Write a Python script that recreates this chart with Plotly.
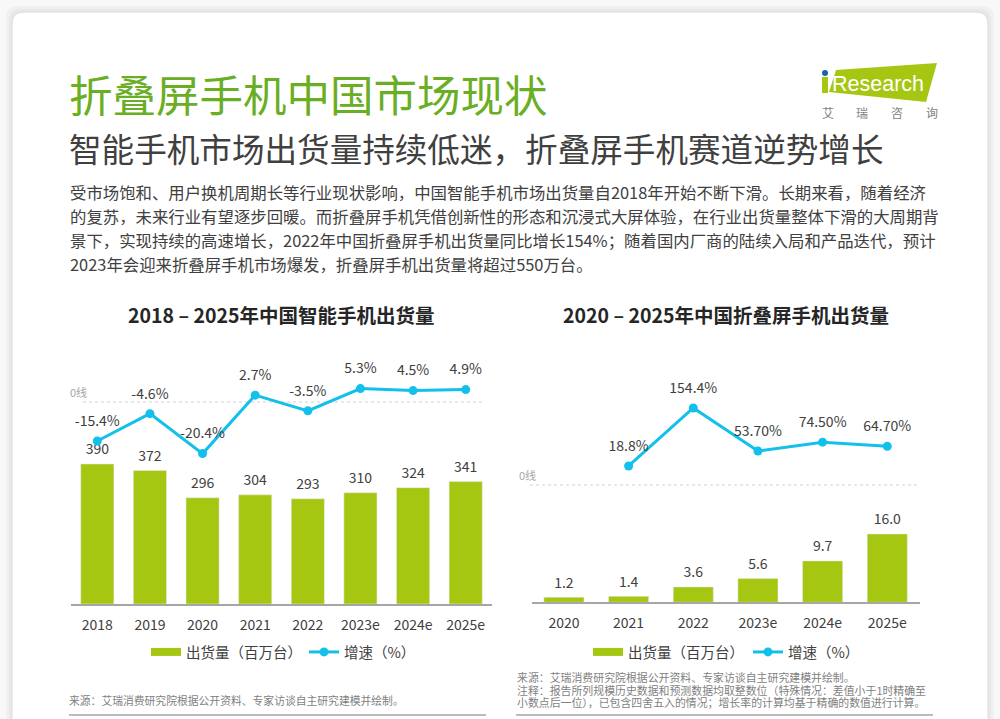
import plotly.graph_objects as go

PAGE_W = 1000
PAGE_H = 719

# left chart
years_a = ['2018', '2019', '2020', '2021', '2022', '2023e', '2024e', '2025e']
shipments_a = [390, 372, 296, 304, 293, 310, 324, 341]
growth_a = [-15.4, -4.6, -20.4, 2.7, -3.5, 5.3, 4.5, 4.9]
growth_labels_a = ['-15.4%', '-4.6%', '-20.4%', '2.7%', '-3.5%', '5.3%', '4.5%', '4.9%']

# right chart
years_b = ['2020', '2021', '2022', '2023e', '2024e', '2025e']
shipments_b = [1.2, 1.4, 3.6, 5.6, 9.7, 16.0]
growth_b = [None, 18.8, 154.4, 53.7, 74.5, 64.7]
growth_labels_b = ['', '18.8%', '154.4%', '53.70%', '74.50%', '64.70%']

title = '折叠屏手机中国市场现状'
subtitle = '智能手机市场出货量持续低迷，折叠屏手机赛道逆势增长'
body_lines = [
    '受市场饱和、用户换机周期长等行业现状影响，中国智能手机市场出货量自2018年开始不断下滑。长期来看，随着经济',
    '的复苏，未来行业有望逐步回暖。而折叠屏手机凭借创新性的形态和沉浸式大屏体验，在行业出货量整体下滑的大周期背',
    '景下，实现持续的高速增长，2022年中国折叠屏手机出货量同比增长154%；随着国内厂商的陆续入局和产品迭代，预计',
    '2023年会迎来折叠屏手机市场爆发，折叠屏手机出货量将超过550万台。',
]
source_a = '来源：艾瑞消费研究院根据公开资料、专家访谈自主研究建模并绘制。'
source_b = [
    '来源：艾瑞消费研究院根据公开资料、专家访谈自主研究建模并绘制。',
    '注释：报告所列规模历史数据和预测数据均取整数位（特殊情况：差值小于1时精确至',
    '小数点后一位），已包含四舍五入的情况；增长率的计算均基于精确的数值进行计算。',
]

FONT = 'Noto Sans CJK SC'
GREEN = '#a6c712'
BLUE = '#12c0ea'
TEXT = '#404040'


def px_x(x):
    return x / PAGE_W


def px_y(y):
    return 1 - y / PAGE_H


def add_text(fig, x, y, text, size, color=TEXT, anchor='left', bold=False, family=FONT):
    if bold:
        text = '<b>' + text + '</b>'
    fig.add_annotation(x=px_x(x), y=px_y(y), xref='paper', yref='paper', text=text, showarrow=False,
                       xanchor=anchor, yanchor='middle', align=anchor, borderpad=0,
                       font=dict(family=family, size=size, color=color))


def add_labels(fig, x, y, labels, xaxis, yaxis, gap):
    # invisible markers, their size sets how far the text sits above the point
    fig.add_trace(go.Scatter(x=x, y=y, xaxis=xaxis, yaxis=yaxis, mode='markers+text', text=labels,
                             textposition='top center', cliponaxis=False, showlegend=False,
                             marker=dict(size=gap, opacity=0),
                             textfont=dict(size=14, color=TEXT)))


def card_path(inset):
    left, right, top = 12 - inset, 988 + inset, 12 - inset
    return (f'M {px_x(left)} {px_y(725)} L {px_x(left)} {px_y(top + 12)} '
            f'Q {px_x(left)} {px_y(top)} {px_x(left + 12)} {px_y(top)} '
            f'L {px_x(right - 12)} {px_y(top)} Q {px_x(right)} {px_y(top)} {px_x(right)} {px_y(top + 12)} '
            f'L {px_x(right)} {px_y(725)} Z')


fig = go.Figure()

# bars and growth lines
fig.add_trace(go.Bar(x=years_a, y=shipments_a, xaxis='x', yaxis='y', marker_color=GREEN, width=0.63,
                     showlegend=False))
fig.add_trace(go.Scatter(x=years_a, y=growth_a, xaxis='x', yaxis='y2', mode='lines+markers',
                         line=dict(color=BLUE, width=3), marker=dict(color=BLUE, size=9),
                         cliponaxis=False, name='增速（%）', legend='legend2'))
fig.add_trace(go.Bar(x=years_b, y=shipments_b, xaxis='x2', yaxis='y3', marker_color=GREEN, width=0.62,
                     showlegend=False))
fig.add_trace(go.Scatter(x=years_b, y=growth_b, xaxis='x2', yaxis='y4', mode='lines+markers',
                         line=dict(color=BLUE, width=3), marker=dict(color=BLUE, size=9),
                         cliponaxis=False, name='增速（%）', legend='legend4'))

add_labels(fig, years_a, shipments_a, [str(v) for v in shipments_a], 'x', 'y', 8)
add_labels(fig, years_a, growth_a, growth_labels_a, 'x', 'y2', 17)
add_labels(fig, years_b, shipments_b, [f'{v:.1f}' for v in shipments_b], 'x2', 'y3', 8)
add_labels(fig, years_b, growth_b, growth_labels_b, 'x2', 'y4', 17)

# legend swatches for the bars, thick lines give the flat rectangle
fig.add_trace(go.Scatter(x=[None], y=[None], xaxis='x', yaxis='y', mode='lines', name='出货量（百万台）',
                         line=dict(color=GREEN, width=8), legend='legend'))
fig.add_trace(go.Scatter(x=[None], y=[None], xaxis='x2', yaxis='y3', mode='lines', name='出货量（百万台）',
                         line=dict(color=GREEN, width=8), legend='legend3'))

shapes = [
    # card with a soft shadow
    dict(type='path', xref='paper', yref='paper', layer='below', fillcolor='#f0f0f0',
         line=dict(width=0), path=card_path(6)),
    dict(type='path', xref='paper', yref='paper', layer='below', fillcolor='#e8e8e8',
         line=dict(width=0), path=card_path(3)),
    dict(type='path', xref='paper', yref='paper', layer='below', fillcolor='#ffffff',
         line=dict(color='#dddddd', width=1), path=card_path(0)),
    # logo
    dict(type='path', xref='paper', yref='paper', layer='below', fillcolor=GREEN, line=dict(width=0),
         path=f'M {px_x(836)} {px_y(70)} L {px_x(937)} {px_y(63)} L {px_x(926)} {px_y(102)} '
              f'L {px_x(829)} {px_y(92)} Z'),
    dict(type='rect', xref='paper', yref='paper', layer='below', fillcolor=GREEN, line=dict(width=0),
         x0=px_x(822), x1=px_x(828), y0=px_y(93), y1=px_y(77)),
    dict(type='circle', xref='paper', yref='paper', fillcolor='#1f5fa8', line=dict(width=0),
         x0=px_x(822), x1=px_x(828), y0=px_y(76), y1=px_y(70)),
    # zero lines
    dict(type='line', xref='paper', yref='paper', x0=px_x(83), x1=px_x(485), y0=px_y(402), y1=px_y(402),
         line=dict(color='#cfcfcf', width=1, dash='3px,3px'), layer='below'),
    dict(type='line', xref='paper', yref='paper', x0=px_x(530), x1=px_x(920), y0=px_y(485), y1=px_y(485),
         line=dict(color='#cfcfcf', width=1, dash='3px,3px'), layer='below'),
    # footer rules
    dict(type='line', xref='paper', yref='paper', x0=px_x(69), x1=px_x(486), y0=px_y(715), y1=px_y(715),
         line=dict(color='#a6a6a6', width=1.5)),
    dict(type='line', xref='paper', yref='paper', x0=px_x(516), x1=px_x(933), y0=px_y(715), y1=px_y(715),
         line=dict(color='#a6a6a6', width=1.5)),
]

legend_base = dict(orientation='h', xanchor='left', yanchor='middle', bgcolor='rgba(0,0,0,0)',
                   font=dict(size=14.5, color=TEXT, family=FONT), itemwidth=30)
axis_x = dict(type='category', showgrid=False, showline=True, linecolor='#a6a6a6', linewidth=1.5,
              ticks='outside', ticklen=7, tickcolor='rgba(0,0,0,0)',
              tickfont=dict(size=14, color=TEXT, family=FONT), fixedrange=True)

fig.update_layout(
    width=PAGE_W, height=PAGE_H, margin=dict(l=0, r=0, t=0, b=0), autosize=False,
    paper_bgcolor='#f8f8f8', plot_bgcolor='rgba(0,0,0,0)', font=dict(family=FONT, color=TEXT),
    shapes=shapes,
    # left chart, pixel domains from the reference
    xaxis=dict(axis_x, domain=[px_x(71), px_x(492)], range=[-0.5, len(years_a) - 0.5], anchor='y'),
    yaxis=dict(domain=[px_y(604), px_y(400)], range=[0, 204 / 0.359], visible=False, anchor='x'),
    yaxis2=dict(domain=[px_y(470), px_y(370)], range=[(402 - 470) / 2.53, (402 - 370) / 2.53],
                visible=False, anchor='x'),
    # right chart
    xaxis2=dict(axis_x, domain=[px_x(531.6), px_x(919.6)], range=[-0.5, len(years_b) - 0.5], anchor='y3'),
    yaxis3=dict(domain=[px_y(602.3), px_y(500)], range=[0, 102.3 / 4.27], visible=False, anchor='x2'),
    yaxis4=dict(domain=[px_y(490), px_y(370)], range=[(474 - 490) / 0.4277, (474 - 370) / 0.4277],
                visible=False, anchor='x2'),
    legend=dict(legend_base, x=px_x(146), y=px_y(652)),
    legend2=dict(legend_base, x=px_x(304), y=px_y(652)),
    legend3=dict(legend_base, x=px_x(588), y=px_y(652)),
    legend4=dict(legend_base, x=px_x(748), y=px_y(652)),
)

# headers
add_text(fig, 68, 93, title, 43.5, color='#6aae23')
add_text(fig, 68, 147, subtitle, 32.6)
for i, line in enumerate(body_lines):
    add_text(fig, 69, 192 + i * 24, line, 16.4)

add_text(fig, 281, 314, '2018 – 2025年中国智能手机出货量', 19.5, color='#262626', anchor='center', bold=True)
add_text(fig, 726, 314, '2020 – 2025年中国折叠屏手机出货量', 19.5, color='#262626', anchor='center', bold=True)

add_text(fig, 69, 392, '0线', 11, color='#a6a6a6')
add_text(fig, 518, 475, '0线', 11, color='#a6a6a6')

add_text(fig, 68, 700, source_a, 10.8, color='#7f7f7f')
for i, line in enumerate(source_b):
    add_text(fig, 516, 677 + i * 12.5, line, 10.9, color='#7f7f7f')

# logo text
add_text(fig, 831, 84, 'Research', 21.5, color='#ffffff', family='Liberation Sans')
for x, ch in zip([828, 862, 897, 932], '艾瑞咨询'):
    add_text(fig, x, 113, ch, 12, color='#7f7f7f', anchor='center')

# the browser's default body margin would push the figure off its position
fig.write_html("out.html", post_script='document.body.style.margin = "0";',
               config={'displayModeBar': False})
